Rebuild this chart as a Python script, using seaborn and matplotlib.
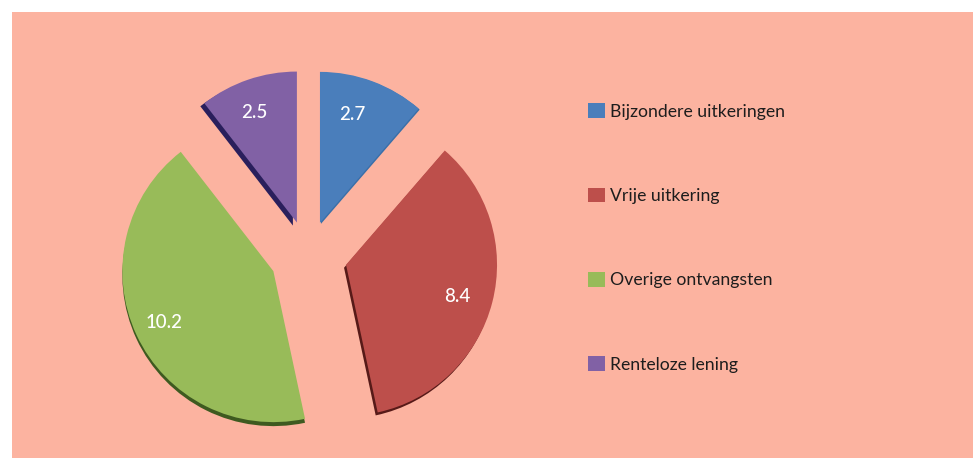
import matplotlib
matplotlib.use("Agg")
import matplotlib.pyplot as plt
import seaborn as sns
import numpy as np

# Values
categories = ["Bijzondere uitkeringen", "Vrije uitkering", "Overige ontvangsten", "Renteloze lening"]
values = [2.7, 8.4, 10.2, 2.5]

# Office style colours
slice_colors = ["#4a7ebb", "#bd4f4b", "#98bb59", "#8161a5"]
side_colors = ["#3a6fa8", "#571a18", "#3e5a20", "#2a1f5c"]
radius = 151
# pie() takes explode in data units, so scale by the radius
explode = [radius * e for e in [0.227, 0.26, 0.253, 0.227]]
# how far the dark edge sticks out per slice, and small label shifts
side_offset = [(1, -1), (-2, -3), (0, -4), (-4, -3)]
label_shift = [(-9, -2), (-3, -3), (-2, -2), (-4, -1)]

sns.set_theme(style="white")
plt.rcParams["font.family"] = ["Lato", "DejaVu Sans"]

W, H = 973, 459
fig = plt.figure(figsize=(W / 100, H / 100), dpi=100, facecolor="white")
ax = fig.add_axes([12 / W, 1 / H, 961 / W, 446 / H], facecolor="#fcb3a0")

total = sum(values)
centre = (308, 204)

# darker copy behind the slices gives the 3D edge
sides, _ = ax.pie(values, startangle=90, counterclock=False, colors=side_colors, explode=explode,
                  radius=radius, center=centre, frame=True, wedgeprops={"linewidth": 0})
for w, (dx, dy) in zip(sides, side_offset):
    w.set_center((w.center[0] + dx, w.center[1] + dy))

wedges, _, autotexts = ax.pie(values, startangle=90, counterclock=False, colors=slice_colors,
                              explode=explode, radius=radius, center=centre, frame=True,
                              autopct=lambda p: f"{p * total / 100:.1f}", pctdistance=0.78,
                              wedgeprops={"linewidth": 0})
for t, (dx, dy) in zip(autotexts, label_shift):
    x, y = t.get_position()
    t.set_position((x + dx, y + dy))
    t.set_color("white")
    t.set_fontsize(13.5)
    t.set_fontweight("medium")

ax.set_xlim(12, 973)
ax.set_ylim(1, 447)
ax.set_aspect("equal")
ax.set_xticks([])
ax.set_yticks([])
sns.despine(ax=ax, left=True, bottom=True)

leg = ax.legend(wedges, categories, loc="upper left", bbox_to_anchor=((583 - 12) / 961, (447 - 87) / 446),
                frameon=False, fontsize=12.7, handlelength=0.92, handleheight=0.92, handletextpad=0.3,
                labelspacing=3.84, labelcolor="#1d1d1d", borderpad=0.3, borderaxespad=0)

fig.savefig("out.png", dpi=100)
